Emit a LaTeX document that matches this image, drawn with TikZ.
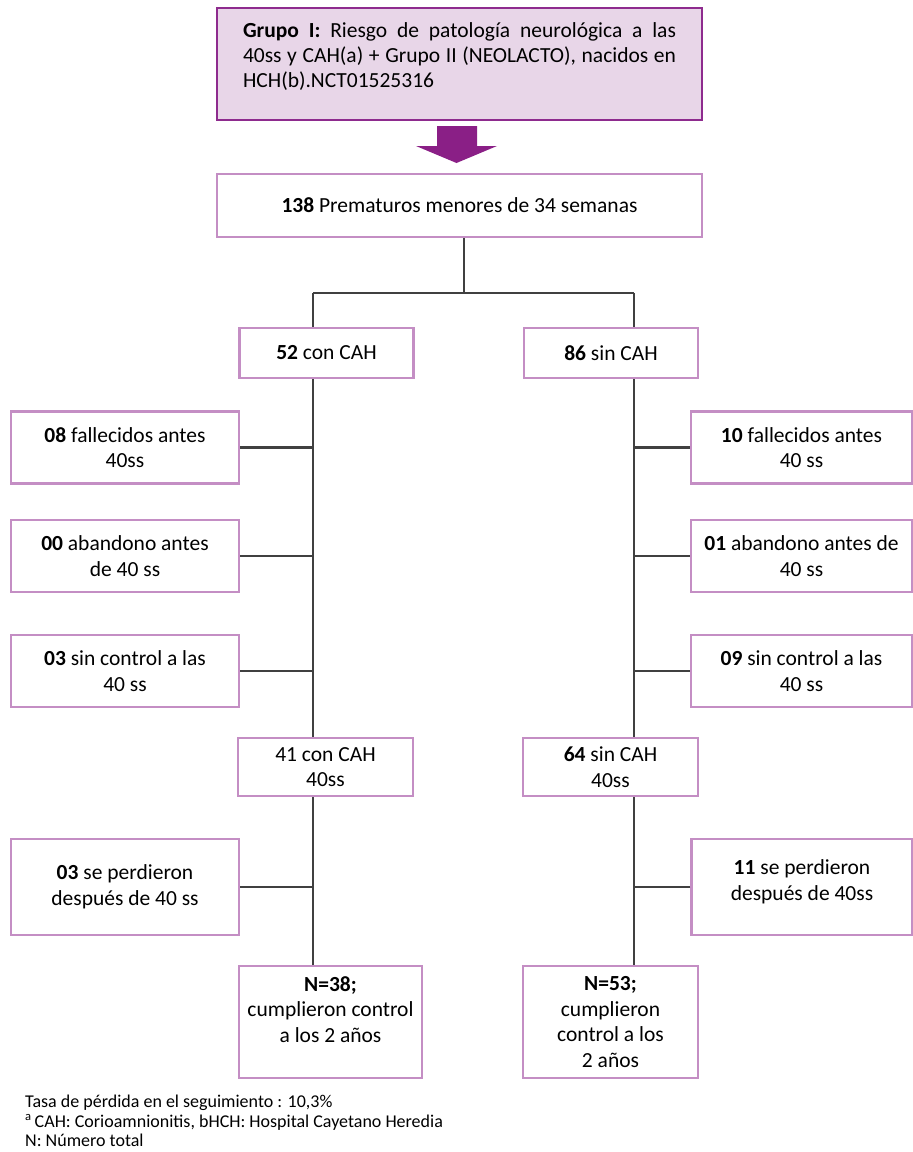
\documentclass[tikz,border=0pt]{standalone}
\usepackage{fontspec}
\setmainfont{Carlito}
\usepackage{tikz}
\usetikzlibrary{positioning,calc}
\definecolor{lila}{HTML}{C48EC4}
\definecolor{morado}{HTML}{8E2B8E}
\definecolor{rosa}{HTML}{E8D6E8}
\definecolor{flecha}{HTML}{8A1F86}
\definecolor{gris}{HTML}{404040}

\begin{document}
\begin{tikzpicture}[x=1pt,y=-1pt,
  caja/.style={draw=lila,line width=2.2pt,align=center,inner sep=0pt,
    font=\fontsize{21.5}{25.5}\selectfont},
  grupobox/.style={draw=morado,fill=rosa,line width=2.6pt,inner sep=0pt,
    minimum width=485,minimum height=112,text width=433,align=justify,
    font=\fontsize{21.5}{25}\selectfont},
  lado/.style={caja,minimum width=228,minimum height=72},
  ladoder/.style={caja,minimum width=221,minimum height=72},
  rama/.style={caja,minimum width=174,minimum height=50},
  rama40/.style={caja,minimum width=175,minimum height=58},
  final/.style={caja,minimum width=180,minimum height=112},
  linea/.style={draw=gris,line width=2.6pt}]
\useasboundingbox (0,0) rectangle (913,1152);

\node[grupobox] (grupo) at (459.5,64)
  {\textbf{Grupo I:} Riesgo de patología neurológica a las\linebreak
   40ss y CAH(a) + Grupo II (NEOLACTO), nacidos en\linebreak
   HCH(b).NCT01525316\par\nointerlineskip\vbox to 14pt{}};
\fill[flecha] (437,126) -- (477,126) -- (477,146) -- (497,146)
  -- (456.5,163) -- (416,146) -- (437,146) -- cycle;

\node[caja,minimum width=485,minimum height=63] (prem) at (459.5,205.5)
  {\textbf{138} Prematuros menores de 34 semanas};

\node[rama] (con) at (326.5,353) {\textbf{52} con CAH};
\node[rama] (sin) at (611,353) {\textbf{86} sin CAH};

\coordinate (div) at (464,293);
\coordinate (spineL) at (313,293);
\coordinate (spineR) at (634,293);

\node[lado] (fallL) at (125,447.5) {\textbf{08} fallecidos antes\\40ss};
\node[lado] (abanL) at (125,556) {\textbf{00} abandono antes\\de 40 ss};
\node[lado] (sinctlL) at (125,671) {\textbf{03} sin control a las\\40 ss};
\node[ladoder] (fallR) at (801.5,447.5) {\textbf{10} fallecidos antes\\40 ss};
\node[ladoder] (abanR) at (801.5,556) {\textbf{01} abandono antes de\\40 ss};
\node[ladoder] (sinctlR) at (801.5,671) {\textbf{09} sin control a las\\40 ss};

\node[rama40] (con40) at (325.5,767) {41 con CAH\\40ss};
\node[rama40] (sin40) at (610.5,767) {\textbf{64} sin CAH\\40ss};

\node[lado,minimum height=96] (perdL) at (125,887) {\textbf{03} se perdieron\\después de 40 ss};
\node[ladoder,minimum height=96] (perdR) at (802,887) {\textbf{11} se perdieron\\después de 40ss\\[-11.5pt]~};

\node[final,minimum width=183] (n38) at (330.5,1022)
  {\textbf{N=38;}\\cumplieron control\\a los 2 años\\~};
\node[final,minimum width=175] (n53) at (610.5,1022)
  {\textbf{N=53;}\\cumplieron\\control a los\\2 años};

\draw[linea] (prem.south -| div) -- (div);
\draw[linea] (spineL) -- (spineR);
\draw[linea] (spineL) -- (con.north -| spineL);
\draw[linea] (spineR) -- (sin.north -| spineR);
\draw[linea] (con.south -| spineL) -- (con40.north -| spineL);
\draw[linea] (sin.south -| spineR) -- (sin40.north -| spineR);
\draw[linea] (con40.south -| spineL) -- (n38.north -| spineL);
\draw[linea] (sin40.south -| spineR) -- (n53.north -| spineR);
\foreach \b in {fallL,abanL,sinctlL,perdL}
  \draw[linea] (\b.east) -- (\b.east -| spineL);
\foreach \b in {fallR,abanR,sinctlR,perdR}
  \draw[linea] (\b.west) -- (\b.west -| spineR);

\node[anchor=north west,inner sep=0pt,align=left,
  font=\fontsize{18}{19.5}\selectfont] (nota) at (25,1095)
  {Tasa de pérdida en el seguimiento : 10,3\%\\
   \textsuperscript{a}\,CAH: Corioamnionitis, bHCH: Hospital Cayetano Heredia\\
   N: Número total};
\end{tikzpicture}
\end{document}
